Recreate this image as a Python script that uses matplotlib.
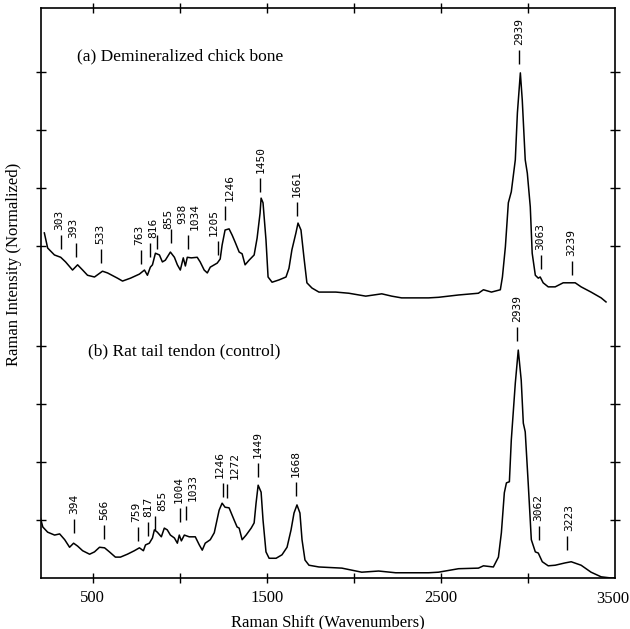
import matplotlib
matplotlib.use("Agg")
import matplotlib.pyplot as plt

# spectrum (a): demineralized chick bone, intensity above its own baseline
shift_a = [222, 241, 280, 316, 344, 384, 413, 442, 470, 510, 556, 585, 642, 671, 717,
           768, 797, 814, 831, 843, 860, 883, 900, 917, 946, 969, 986, 1003, 1020, 1032,
           1043, 1066, 1100, 1117, 1140, 1158, 1175, 1215, 1232, 1243, 1260, 1283, 1301,
           1318, 1341, 1358, 1375, 1398, 1427, 1444, 1461, 1467, 1478, 1495, 1507, 1530,
           1570, 1610, 1627, 1644, 1667, 1679, 1696, 1713, 1730, 1759, 1799, 1896, 1971,
           2068, 2160, 2217, 2274, 2429, 2486, 2601, 2715, 2744, 2790, 2841, 2853, 2870,
           2887, 2904, 2927, 2939, 2956, 2967, 2984, 2996, 3013, 3024, 3042, 3059, 3070,
           3087, 3116, 3156, 3202, 3271, 3305, 3362, 3420, 3448]
int_a = [1.23, 0.97, 0.85, 0.81, 0.73, 0.59, 0.68, 0.59, 0.50, 0.47, 0.57, 0.54, 0.45, 0.40, 0.45,
         0.52, 0.59, 0.50, 0.64, 0.68, 0.88, 0.85, 0.73, 0.76, 0.90, 0.81, 0.68, 0.59, 0.80, 0.66,
         0.81, 0.80, 0.81, 0.73, 0.59, 0.54, 0.64, 0.71, 0.78, 1.02, 1.28, 1.30, 1.19,
         1.07, 0.90, 0.87, 0.68, 0.76, 0.85, 1.14, 1.57, 1.83, 1.75, 1.11, 0.47, 0.38,
         0.42, 0.47, 0.62, 0.94, 1.23, 1.40, 1.28, 0.81, 0.37, 0.28, 0.21, 0.21, 0.19,
         0.14, 0.18, 0.14, 0.11, 0.11, 0.12, 0.16, 0.19, 0.25, 0.21, 0.25, 0.47, 0.99,
         1.75, 1.94, 2.49, 3.30, 3.99, 3.52, 2.49, 2.26, 1.68, 0.88, 0.50, 0.45, 0.47,
         0.37, 0.30, 0.30, 0.37, 0.37, 0.30, 0.21, 0.11, 0.04]

# spectrum (b): rat tail tendon (control)
shift_b = [200, 213, 241, 281, 310, 339, 367, 390, 413, 442, 482, 510, 539, 568, 596,
           630, 659, 699, 739, 768, 791, 803, 825, 843, 854, 871, 894, 911, 928, 946,
           969, 986, 997, 1009, 1026, 1054, 1089, 1112, 1129, 1146, 1175, 1198, 1226,
           1243, 1260, 1283, 1312, 1329, 1341, 1358, 1381, 1410, 1427, 1438, 1450, 1467,
           1478, 1495, 1513, 1553, 1587, 1616, 1639, 1656, 1673, 1690, 1702, 1719, 1742,
           1799, 1931, 2045, 2142, 2240, 2354, 2429, 2486, 2601, 2715, 2744, 2801, 2830,
           2847, 2864, 2876, 2893, 2904, 2927, 2944, 2961, 2973, 2984, 3001, 3019, 3042,
           3059, 3082, 3116, 3156, 3213, 3248, 3305, 3362, 3420, 3477, 3500]
int_b = [1.03, 0.88, 0.79, 0.74, 0.76, 0.66, 0.53, 0.60, 0.55, 0.47, 0.41, 0.45, 0.53, 0.52, 0.45,
         0.36, 0.36, 0.41, 0.47, 0.52, 0.47, 0.57, 0.60, 0.69, 0.83, 0.79, 0.71, 0.86, 0.83, 0.74,
         0.69, 0.60, 0.74, 0.64, 0.74, 0.71, 0.71, 0.57, 0.48, 0.60, 0.66, 0.78, 1.17,
         1.29, 1.22, 1.21, 1.00, 0.88, 0.86, 0.66, 0.74, 0.86, 0.95, 1.29, 1.60, 1.48,
         1.00, 0.45, 0.34, 0.34, 0.40, 0.53, 0.83, 1.12, 1.26, 1.12, 0.66, 0.31, 0.22,
         0.19, 0.17, 0.10, 0.12, 0.09, 0.09, 0.09, 0.10, 0.16, 0.17, 0.21, 0.19, 0.36,
         0.78, 1.47, 1.64, 1.66, 2.38, 3.36, 3.93, 3.41, 2.67, 2.52, 1.64, 0.66, 0.45,
         0.43, 0.28, 0.21, 0.22, 0.26, 0.28, 0.22, 0.10, 0.02, 0.0, 0.0]

# peak labels: wavenumber, height of the marker line foot, sideways nudge of the text
peaks_a = [303, 393, 533, 763, 816, 855, 938, 1034, 1205, 1246, 1450, 1661, 2939, 3063, 3239]
peak_y_a = [0.95, 0.81, 0.71, 0.69, 0.81, 0.96, 1.06, 0.95, 0.85, 1.45, 1.94, 1.52, 4.14, 0.61, 0.50]
nudge_a = [-10, -15, 0, -10, 17, 69, 63, 40, -23, 29, 0, 0, 0, -5, 0]
peaks_b = [394, 566, 759, 817, 855, 1004, 1033, 1246, 1272, 1449, 1668, 2939, 3062, 3223]
peak_y_b = [0.78, 0.67, 0.64, 0.72, 0.83, 0.97, 1.00, 1.40, 1.38, 1.74, 1.41, 4.09, 0.66, 0.48]
nudge_b = [0, 0, -8, 0, 46, -11, 40, -14, 46, 0, 0, 0, -5, 12]

offset_a = 4.72
serif = "Liberation Serif"

fig = plt.figure(figsize=(6.3, 6.29), dpi=100)
ax = fig.add_axes([0.0643, 0.0811, 0.912, 0.9054])

ax.plot(shift_a, [v + offset_a for v in int_a], color="black", lw=1.1)
ax.plot(shift_b, int_b, color="black", lw=1.1)

tick_len = 0.24
gap = 0.09
for pos, y0, nud, dx, off in [(peaks_a, peak_y_a, nudge_a, 12, offset_a),
                              (peaks_b, peak_y_b, nudge_b, 0, 0)]:
    for p, y, n in zip(pos, y0, nud):
        ax.vlines(p + dx, y + off, y + off + tick_len, color="black", lw=1.0)
        ax.text(p + dx + n, y + off + tick_len + gap, str(p), rotation=90,
                ha="center", va="bottom", fontsize=8, family="DejaVu Sans Mono")

ax.text(407, 9.0, "(a) Demineralized chick bone", fontsize=12.5, family=serif, va="center")
ax.text(470, 3.9, "(b) Rat tail tendon (control)", fontsize=12.5, family=serif, va="center")

ax.set_xlim(200, 3500)
ax.set_ylim(0, 9.82)
ax.set_xticks([500, 1000, 1500, 2000, 2500, 3000])
ax.set_xticklabels(["500", "", "1500", "", "2500", ""])
yt = [1, 2, 3, 4] + [offset_a + k for k in [1, 2, 3, 4]]
ax.set_yticks(yt)
ax.set_yticklabels([])
ax.tick_params(axis="both", direction="inout", length=7, width=1.0,
               top=True, right=True, labelsize=12, pad=5)
for lab in ax.get_xticklabels():
    lab.set_family(serif)
ax.text(3485, -0.22, "3500", ha="center", va="top", fontsize=12, family=serif)

for s in ax.spines.values():
    s.set_linewidth(1.2)

ax.set_xlabel("Raman Shift (Wavenumbers)", fontsize=12, family=serif, labelpad=6)
ax.set_ylabel("Raman Intensity (Normalized)", fontsize=12, family=serif)
ax.yaxis.set_label_coords(-0.032, 0.551)

fig.savefig("out.png", dpi=100)
